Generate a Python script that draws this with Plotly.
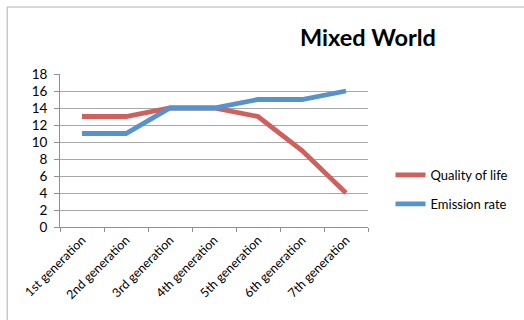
import plotly.graph_objects as go

# Chart data
generations = ["1st generation", "2nd generation", "3rd generation", "4th generation",
               "5th generation", "6th generation", "7th generation"]
quality_of_life = [13, 13, 14, 14, 13, 9, 4]
emission_rate = [11, 11, 14, 14, 15, 15, 16]
y_ticks = [0, 2, 4, 6, 8, 10, 12, 14, 16, 18]

FONT = "Lato, Carlito, 'Open Sans', sans-serif"
RED = "#D0605C"
BLUE = "#5592CE"

fig = go.Figure()
fig.add_trace(go.Scatter(x=generations, y=quality_of_life, mode="lines",
                         name="Quality of life", legendgroup="q",
                         line=dict(color=RED, width=4.8)))
fig.add_trace(go.Scatter(x=generations, y=emission_rate, mode="lines",
                         name="Emission rate", legendgroup="e",
                         line=dict(color=BLUE, width=4.8)))

W, H = 524, 320
ml, mr, mt, mb = 60, 149, 74, 93
pw, ph = W - ml - mr, H - mt - mb

# outer chart border
fig.add_shape(type="rect", xref="paper", yref="paper",
              x0=(6 - ml) / pw, x1=(W + 20 - ml) / pw,
              y0=-(H + 20 - mt - ph) / ph, y1=1 + (mt - 7) / ph,
              line=dict(color="#B0B0B0", width=1), fillcolor="rgba(0,0,0,0)", layer="below")

fig.update_layout(
    width=W, height=H,
    margin=dict(l=ml, r=mr, t=mt, b=mb),
    paper_bgcolor="white", plot_bgcolor="white",
    font=dict(family=FONT, size=12, color="#000000"),
    title=dict(text="<b>Mixed World</b>", x=368 / W, xanchor="center",
               y=1 - 38 / H, yanchor="middle",
               font=dict(family=FONT, size=23.5, color="#000000")),
    showlegend=True,
    legend=dict(x=(398 - ml) / pw, xanchor="left", y=1 - (160 - mt) / ph, yanchor="top",
                font=dict(family=FONT, size=13), tracegroupgap=9,
                itemwidth=30, bgcolor="rgba(0,0,0,0)"),
    xaxis=dict(type="category", tickson="boundaries", showgrid=False,
               showline=True, linecolor="#909090", linewidth=1,
               ticks="outside", ticklen=4, tickcolor="#909090",
               tickangle=-45, tickfont=dict(family=FONT, size=12.5),
               range=[-0.5, 6.5], fixedrange=True),
    yaxis=dict(range=[0, 18], tickvals=y_ticks, showgrid=True,
               gridcolor="#A8A8A8", gridwidth=1,
               showline=True, linecolor="#909090", linewidth=1,
               ticks="outside", ticklen=5, tickcolor="#909090",
               ticklabelstandoff=4,
               tickfont=dict(family=FONT, size=13.5), zeroline=False),
)

fig.write_html("out.html")
